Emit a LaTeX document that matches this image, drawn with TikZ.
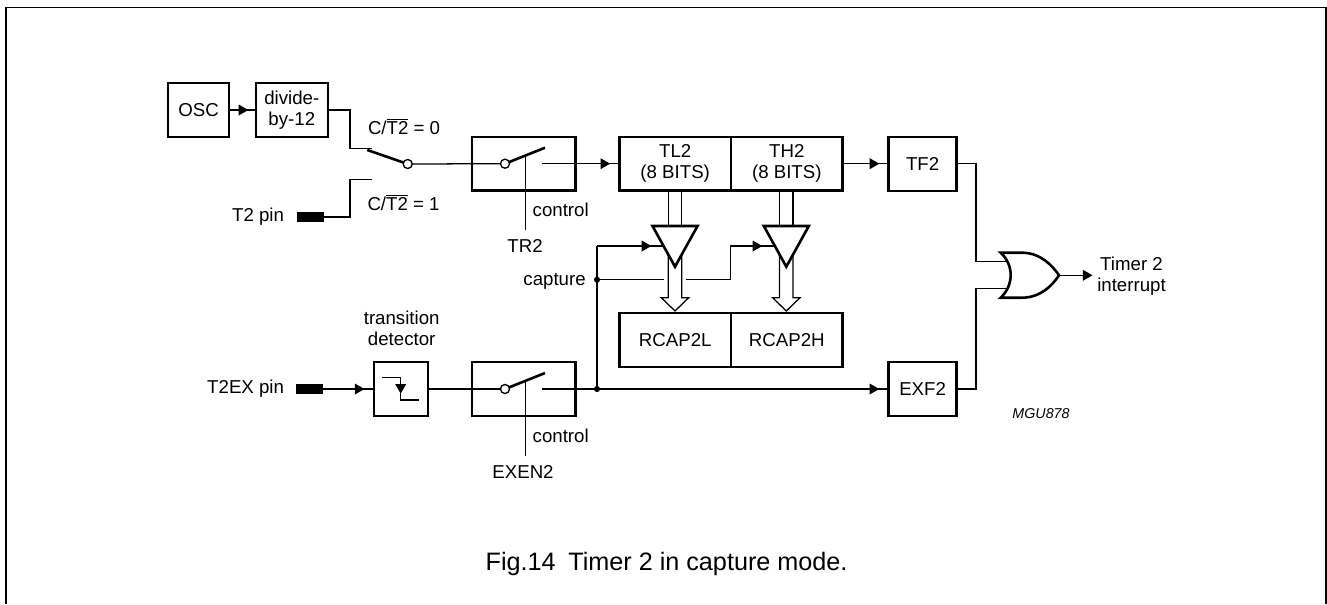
\documentclass[tikz,border=0pt]{standalone}
\usepackage{fontspec}
\setmainfont{Liberation Sans}
\usetikzlibrary{arrows.meta,decorations.markings}
\tikzset{
  sz/.style 2 args={minimum width=#1*0.75pt,minimum height=#2*0.75pt},
  blk/.style={draw,line width=1.75pt,inner sep=0pt,outer sep=0pt,align=center,font=\lbl},
  wire/.style={line width=0.95pt},
  heavy/.style={line width=1.95pt,line join=miter},
  pinbar/.style={fill=black,inner sep=0pt,outer sep=0pt},
  txt/.style={inner sep=0pt,outer sep=0pt,align=center,font=\lbl},
  ring/.style={circle,draw,line width=1pt,fill=white,inner sep=0pt,outer sep=0pt,minimum size=6.8pt},
  dot/.style={circle,fill=black,inner sep=0pt,outer sep=0pt,minimum size=4.6pt},
  tipat/.style={postaction={decorate},decoration={markings,mark=at position #1 with {\arrow{Triangle[length=7.2pt,width=8pt]}}}},
  tip/.style={tipat=-7pt}
}
\newcommand{\lbl}{\fontsize{14}{15.75}\selectfont}
\begin{document}
\begin{tikzpicture}[x=0.75pt,y=-0.75pt]
\useasboundingbox (0,0) rectangle (1327,604);
% frame
\coordinate (fa) at (5.7,604);
\coordinate (fb) at (5.7,7.5);
\coordinate (fc) at (1326,7.5);
\coordinate (fd) at (1326,604);
\draw[line width=1.2pt] (fa) -- (fb) -- (fc) -- (fd);
% boxes
\node[blk,sz={61}{54}] (osc) at (198.5,110) {OSC};
\node[blk,sz={72}{54}] (div) at (291.8,110) {divide-\\by-12};
\node[blk,sz={103.5}{53.5}] (sw1) at (523.7,163.7) {};
\node[blk,sz={111.5}{53.5}] (tl2) at (675.2,163.7) {TL2\\(8 BITS)};
\node[blk,sz={111.7}{53.5}] (th2) at (786.8,163.7) {TH2\\(8 BITS)};
\node[blk,sz={68}{54}] (tf2) at (922.6,163.7) {TF2};
\node[blk,sz={111.5}{53.7}] (rcl) at (675.2,340) {RCAP2L};
\node[blk,sz={111.7}{53.7}] (rch) at (786.8,340) {RCAP2H};
\node[blk,sz={54}{54}] (det) at (400.8,389) {};
\node[blk,sz={103.5}{54}] (sw2) at (523.7,389) {};
\node[blk,sz={68}{54}] (exf) at (922.6,389) {EXF2};
% pins
\node[pinbar,sz={27.6}{9.7}] (pa) at (310.5,217) {};
\node[pinbar,sz={27.6}{9.7}] (pb) at (309.5,389) {};
% labels
\node[txt,anchor=east] (lpa) at (284,217) {T2 pin};
\node[txt,anchor=east] (lpb) at (284,388.5) {T2EX pin};
\node[txt,anchor=west] (lc0) at (368,126.5) {C/$\overline{\mbox{T2}}$ = 0};
\node[txt,anchor=west] (lc1) at (367.5,202.5) {C/$\overline{\mbox{T2}}$ = 1};
\node[txt,anchor=west] (lca) at (532.7,210) {control};
\node[txt,anchor=west] (lcb) at (532.7,435.5) {control};
\node[txt] (ltr) at (525,246) {TR2};
\node[txt] (lex) at (523,471.5) {EXEN2};
\node[txt] (ltd) at (401.7,328) {transition\\detector};
\node[txt,anchor=east] (lcp) at (585.7,281.5) {capture};
\node[txt] (lti) at (1131.5,276) {Timer 2\\interrupt};
\node[txt,font=\fontsize{10.7}{12}\selectfont\itshape] (lmg) at (1041,413.5) {MGU878};
\node[inner sep=0pt,outer sep=0pt,anchor=east,font=\fontsize{18.9}{22}\selectfont] (cap) at (847.5,564) {Fig.14\hspace{0.5em}Timer 2 in capture mode.};
% osc to divider
\draw[wire,tipat=-5.6pt] (osc.east) -- (div.west);
% input selector
\coordinate (s0) at (371.7,148.3);
\coordinate (s1) at (371.7,179.3);
\coordinate (bt) at (367.3,150);
\node[ring] (c1) at (407.7,164) {};
\draw[wire] (div.east) -- (350,110) -- (350,148.3) -- (s0);
\draw[wire] (pa.east) -- (350,217) -- (350,179.3) -- (s1);
\draw[heavy] (bt) -- (c1);
% first gate switch
\node[ring] (c2) at (505,163.7) {};
\coordinate (b2) at (545,147.7);
\coordinate (k2) at (541.7,163.7);
\coordinate (ct2) at (525.7,155.5);
\coordinate (ce2) at (525.7,230);
\draw[wire] (c1) -- (c2);
\draw[heavy] (c2) -- (b2);
\draw[wire] (ct2) -- (ce2);
\draw[wire,tip] (k2) -- (tl2.west);
% TH2 to TF2
\draw[wire,tip] (th2.east) -- (tf2.west);
% second row
\draw[wire,tip] (pb.east) -- (det.west);
\node[ring] (c3) at (505,389) {};
\draw[wire] (det.east) -- (c3);
\coordinate (b3) at (545,373);
\coordinate (k3) at (541.7,389);
\coordinate (ct3) at (525.7,380.5);
\coordinate (ce3) at (525.7,455.7);
\draw[heavy] (c3) -- (b3);
\draw[wire] (ct3) -- (ce3);
\draw[wire,tip] (k3) -- (exf.west);
% detector symbol
\coordinate (d0) at (382.3,377.7);
\coordinate (d1) at (400.7,377.7);
\coordinate (d2) at (400.7,400);
\coordinate (d3) at (419.3,400);
\draw[line width=1pt,tipat=0.58] (d0) -- (d1) -- (d2) -- (d3);
% capture wires
\node[dot] (n1) at (597,279.7) {};
\node[dot] (n2) at (597,389) {};
\coordinate (n0) at (597,246);
\coordinate (in1) at (664,246);
\coordinate (in2) at (775,246);
\coordinate (g1) at (663.7,279.7);
\coordinate (g2) at (686.3,279.7);
\draw[wire] (n2.center) -- (n0);
\draw[wire,tipat=-9.5pt] (n0) -- (in1);
\draw[wire] (n1.center) -- (g1);
\draw[wire,tipat=-9.5pt] (g2) -- (730.7,279.7) -- (730.7,246) -- (in2);
% buses, triangles and hollow arrows
\foreach \nm/\cx in {a/675,b/786.3}{
  \coordinate (ql\nm) at (\cx-22.5,226);
  \coordinate (qr\nm) at (\cx+22.5,226);
  \coordinate (qa\nm) at (\cx,266.7);
  \coordinate (ht\nm) at (\cx,311);
  \draw[wire] (\cx-6.7,190.5) -- (\cx-6.7,226);
  \draw[wire] (\cx+6.7,190.5) -- (\cx+6.7,226);
  \draw[wire,line join=miter] (\cx-6.7,250) -- (\cx-6.7,297.7) -- (\cx-13.7,297.7) -- (ht\nm) -- (\cx+13.7,297.7) -- (\cx+6.7,297.7) -- (\cx+6.7,250);
  \draw[heavy,fill=white] (ql\nm) -- (qr\nm) -- (qa\nm) -- cycle;
}
% or gate
\coordinate (oa) at (1000.7,252.7);
\coordinate (ob) at (1000.7,297.7);
\coordinate (ox) at (1059,275.3);
\coordinate (oi1) at (1006.5,261.7);
\coordinate (oi2) at (1006.5,288.7);
\coordinate (oo) at (1092.5,275.3);
\draw[heavy,miter limit=4] (oa) -- (1022,252.7) .. controls (1040,252.7) and (1052,265) .. (ox) .. controls (1052,286) and (1040,297.7) .. (1022,297.7) -- (ob) .. controls (1014,285) and (1014,265) .. cycle;
\draw[wire] (tf2.east) -- (976,163.7) -- (976,261.7) -- (oi1);
\draw[wire] (exf.east) -- (976,389) -- (976,288.7) -- (oi2);
\draw[wire,-{Triangle[length=7.2pt,width=8pt]}] (ox) -- (oo);
\end{tikzpicture}
\end{document}
